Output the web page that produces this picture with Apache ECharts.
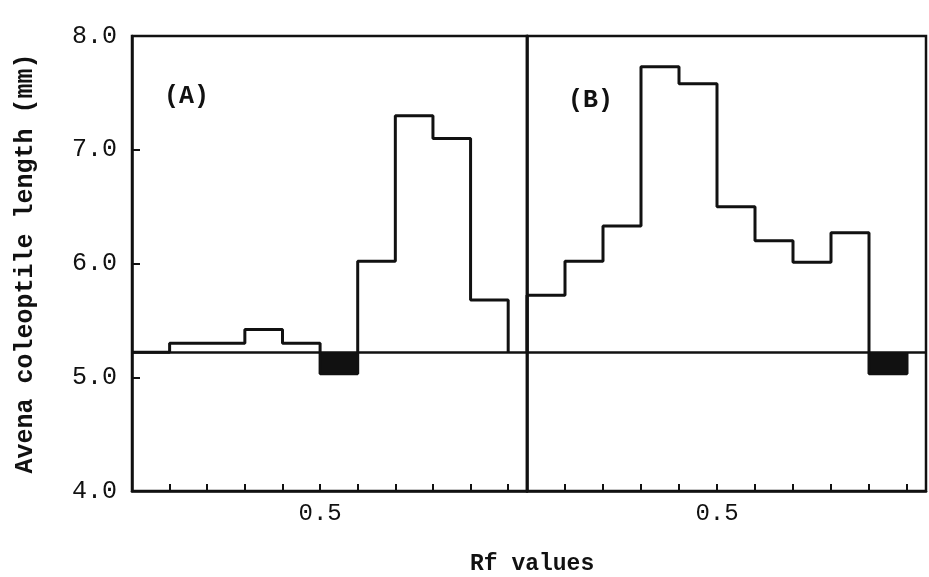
<!DOCTYPE html>
<html><head><meta charset="utf-8">
<script src="https://cdn.jsdelivr.net/npm/echarts@6/dist/echarts.min.js"></script>
<style>html,body{margin:0;padding:0;background:#fff}#c{width:929px;height:577px}</style>
</head><body><div id="c"></div>
<script>
// ---- data ----
const rfBinStarts = [0.0, 0.1, 0.2, 0.3, 0.4, 0.5, 0.6, 0.7, 0.8, 0.9];
const binWidth = 0.1;
const controlLength = 5.22;            // control coleoptile length (horizontal reference line)
const lengthA = [5.22, 5.30, 5.30, 5.42, 5.30, 5.03, 6.02, 7.30, 7.10, 5.68];
const lengthB = [5.72, 6.02, 6.33, 7.73, 7.58, 6.50, 6.20, 6.01, 6.27, 5.03];
const yTickLabels = ['4.0', '5.0', '6.0', '7.0', '8.0'];
const xTickValues = [0.5];
const xTickLabels = ['0.5'];
const panelLabels = ['(A)', '(B)'];
const yAxisTitle = 'Avena coleoptile length (mm)';
const xAxisTitle = 'Rf values';

const FONT = '"Liberation Mono", "DejaVu Sans Mono", monospace';
const INK = '#111';

function outline(vals) {
  const pts = [[rfBinStarts[0], controlLength]];
  vals.forEach((v, i) => {
    pts.push([rfBinStarts[i], v]);
    pts.push([rfBinStarts[i] + binWidth, v]);
  });
  pts.push([rfBinStarts[vals.length - 1] + binWidth, controlLength]);
  return pts;
}
function deficits(vals) {
  const out = [];
  vals.forEach((v, i) => { if (v < controlLength) out.push([rfBinStarts[i], rfBinStarts[i] + binWidth, v]); });
  return out;
}
function xLabel(v) {
  const k = xTickValues.findIndex(t => Math.abs(t - v) < 1e-6);
  return k >= 0 ? xTickLabels[k] : '';
}

const chart = echarts.init(document.getElementById('c'), null, {renderer: 'canvas'});

function xAxisCfg(gi) {
  return {
    type: 'value', gridIndex: gi, min: 0, max: 1.05, interval: 0.1,
    axisLine: {show: true, lineStyle: {color: INK, width: 2.5}},
    axisTick: {show: true, inside: true, length: 7, lineStyle: {color: INK, width: 2}},
    axisLabel: {formatter: xLabel, fontFamily: FONT, fontSize: 24, color: INK, margin: 11, showMinLabel: true, showMaxLabel: true},
    splitLine: {show: false}
  };
}

function stepSeries(gi, vals) {
  return {
    type: 'line', xAxisIndex: gi, yAxisIndex: gi, data: outline(vals),
    symbol: 'none', z: 5,
    lineStyle: {color: INK, width: 3},
    markLine: {
      silent: true, symbol: 'none', label: {show: false},
      lineStyle: {color: INK, width: 2.5, type: 'solid'},
      data: [{yAxis: controlLength}]
    }
  };
}
function deficitSeries(gi, vals) {
  return {
    type: 'custom', xAxisIndex: gi, yAxisIndex: gi, data: deficits(vals), z: 4,
    encode: {x: [0, 1], y: 2},
    renderItem: function (params, api) {
      const p0 = api.coord([api.value(0), controlLength]);
      const p1 = api.coord([api.value(1), api.value(2)]);
      return {type: 'rect', shape: {x: p0[0], y: p0[1], width: p1[0] - p0[0], height: p1[1] - p0[1]},
              style: {fill: INK}};
    }
  };
}

chart.setOption({
  animation: false,
  backgroundColor: '#fff',
  grid: [
    {left: 132, top: 36, width: 395, height: 455, show: true, borderColor: INK, borderWidth: 2.5, backgroundColor: 'transparent'},
    {left: 527, top: 36, width: 401, height: 455, show: true, borderColor: INK, borderWidth: 2.5, backgroundColor: 'transparent'}
  ],
  xAxis: [xAxisCfg(0), xAxisCfg(1)],
  yAxis: [
    {
      type: 'value', gridIndex: 0, min: 4, max: 8, interval: 1,
      name: yAxisTitle, nameLocation: 'middle', nameGap: 94, nameRotate: 90,
      nameTextStyle: {fontFamily: FONT, fontSize: 25, fontWeight: 'bold', color: INK},
      axisLine: {show: true, lineStyle: {color: INK, width: 2.5}},
      axisTick: {show: true, inside: true, length: 8, lineStyle: {color: INK, width: 2}},
      axisLabel: {formatter: v => yTickLabels[Math.round(v - 4)], fontFamily: FONT, fontSize: 25, color: INK, margin: 15},
      splitLine: {show: false}
    },
    {
      type: 'value', gridIndex: 1, min: 4, max: 8, interval: 1,
      axisLine: {show: true, lineStyle: {color: INK, width: 2.5}},
      axisTick: {show: false}, axisLabel: {show: false}, splitLine: {show: false}
    }
  ],
  graphic: [
    {type: 'text', left: 164, top: 84, style: {text: panelLabels[0], font: 'bold 25px ' + FONT, fill: INK}},
    {type: 'text', left: 568, top: 88, style: {text: panelLabels[1], font: 'bold 25px ' + FONT, fill: INK}},
    {type: 'text', left: 470, top: 553, style: {text: xAxisTitle, font: 'bold 23px ' + FONT, fill: INK}}
  ],
  series: [
    deficitSeries(0, lengthA), stepSeries(0, lengthA),
    deficitSeries(1, lengthB), stepSeries(1, lengthB)
  ]
});
</script>
</body></html>
